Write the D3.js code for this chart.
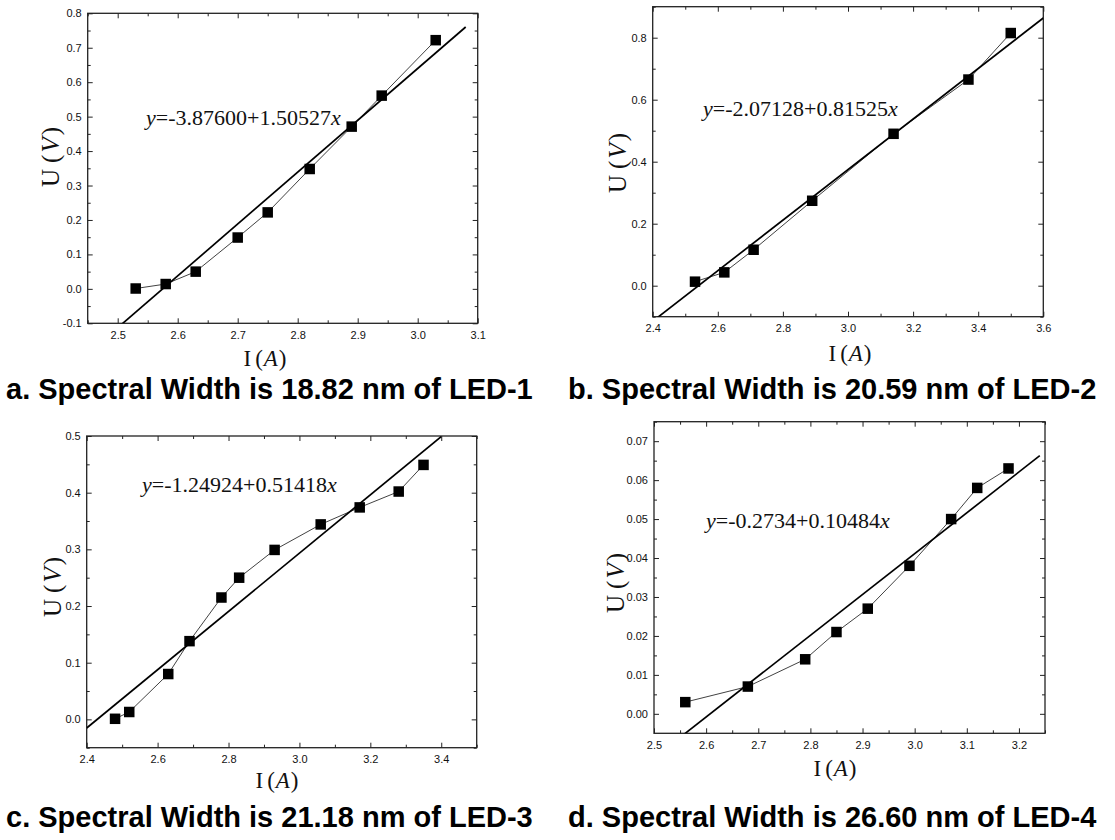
<!DOCTYPE html>
<html>
<head>
<meta charset="utf-8">
<script src="https://cdn.jsdelivr.net/npm/d3@7"></script>
<style>
  body { margin: 0; background: #fff; }
  svg { display: block; }
</style>
</head>
<body>
<svg width="1115" height="840"></svg>
<script>
const iA = [2.53, 2.58, 2.63, 2.70, 2.75, 2.82, 2.89, 2.94, 3.03];
const uA = [0.001, 0.014, 0.050, 0.149, 0.222, 0.348, 0.471, 0.561, 0.722];
const iB = [2.53, 2.62, 2.71, 2.89, 3.14, 3.37, 3.50];
const uB = [0.013, 0.043, 0.116, 0.274, 0.490, 0.665, 0.815];
const iC = [2.48, 2.52, 2.63, 2.69, 2.78, 2.83, 2.93, 3.06, 3.17, 3.28, 3.35];
const uC = [0.001, 0.013, 0.080, 0.138, 0.215, 0.250, 0.299, 0.344, 0.374, 0.402, 0.449];
const iD = [2.56, 2.68, 2.79, 2.85, 2.91, 2.99, 3.07, 3.12, 3.18];
const uD = [0.003, 0.007, 0.014, 0.021, 0.027, 0.038, 0.050, 0.058, 0.063];

// linear fits: [intercept, slope], and the I range the fit line covers
const fitA = [-3.87600, 1.50527], fitRangeA = [2.45, 3.08];
const fitB = [-2.07128, 0.81525], fitRangeB = [2.40, 3.60];
const fitC = [-1.24924, 0.51418], fitRangeC = [2.40, 3.40];
const fitD = [-0.2734, 0.10484], fitRangeD = [2.50, 3.24];

// equation text as printed on each plot
const eqA = "-3.87600+1.50527", eqB = "-2.07128+0.81525", eqC = "-1.24924+0.51418", eqD = "-0.2734+0.10484";

// tick values
const xMajA = [2.5, 2.6, 2.7, 2.8, 2.9, 3.0, 3.1];
const xMinA = [2.45, 2.55, 2.65, 2.75, 2.85, 2.95, 3.05];
const yMajA = [-0.1, 0.0, 0.1, 0.2, 0.3, 0.4, 0.5, 0.6, 0.7, 0.8];
const yMinA = [-0.05, 0.05, 0.15, 0.25, 0.35, 0.45, 0.55, 0.65, 0.75];
const xMajB = [2.4, 2.6, 2.8, 3.0, 3.2, 3.4, 3.6];
const xMinB = [2.5, 2.7, 2.9, 3.1, 3.3, 3.5];
const yMajB = [0.0, 0.2, 0.4, 0.6, 0.8];
const yMinB = [-0.1, 0.1, 0.3, 0.5, 0.7, 0.9];
const xMajC = [2.4, 2.6, 2.8, 3.0, 3.2, 3.4];
const xMinC = [2.5, 2.7, 2.9, 3.1, 3.3, 3.5];
const yMajC = [0.0, 0.1, 0.2, 0.3, 0.4, 0.5];
const yMinC = [-0.05, 0.05, 0.15, 0.25, 0.35, 0.45];
const xMajD = [2.5, 2.6, 2.7, 2.8, 2.9, 3.0, 3.1, 3.2];
const xMinD = [2.55, 2.65, 2.75, 2.85, 2.95, 3.05, 3.15, 3.25];
const yMajD = [0.00, 0.01, 0.02, 0.03, 0.04, 0.05, 0.06, 0.07];
const yMinD = [0.005, 0.015, 0.025, 0.035, 0.045, 0.055, 0.065, 0.075];

const captions = [
  "a. Spectral Width is 18.82 nm of LED-1",
  "b. Spectral Width is 20.59 nm of LED-2",
  "c. Spectral Width is 21.18 nm of LED-3",
  "d. Spectral Width is 26.60 nm of LED-4"
];

const svg = d3.select("svg");

function panel(o) {
  const x = d3.scaleLinear().domain(o.xDom).range([o.left, o.right]);
  const y = d3.scaleLinear().domain(o.yDom).range([o.bottom, o.top]);
  const g = svg.append("g");

  g.append("clipPath").attr("id", "clip" + o.id)
    .append("rect")
    .attr("x", o.left).attr("y", o.top)
    .attr("width", o.right - o.left).attr("height", o.bottom - o.top);

  // plain hyphen for negatives, like the original
  const fmt = f => v => d3.format(f)(v).replace("\u2212", "-");

  // ticks all point inward, labels only on left and bottom
  g.append("g").attr("transform", `translate(0,${o.bottom})`)
    .call(d3.axisBottom(x).tickValues(o.xMaj).tickSize(-5).tickPadding(8).tickFormat(fmt(".1f")));
  g.append("g").attr("transform", `translate(0,${o.bottom})`)
    .call(d3.axisBottom(x).tickValues(o.xMin).tickSize(-3).tickFormat(""));
  g.append("g").attr("transform", `translate(0,${o.top})`)
    .call(d3.axisTop(x).tickValues(o.xMaj).tickSize(-5).tickFormat(""));
  g.append("g").attr("transform", `translate(0,${o.top})`)
    .call(d3.axisTop(x).tickValues(o.xMin).tickSize(-3).tickFormat(""));
  g.append("g").attr("transform", `translate(${o.left},0)`)
    .call(d3.axisLeft(y).tickValues(o.yMaj).tickSize(-5).tickPadding(6).tickFormat(fmt(o.yFmt)));
  g.append("g").attr("transform", `translate(${o.left},0)`)
    .call(d3.axisLeft(y).tickValues(o.yMin).tickSize(-3).tickFormat(""));
  g.append("g").attr("transform", `translate(${o.right},0)`)
    .call(d3.axisRight(y).tickValues(o.yMaj).tickSize(-5).tickFormat(""));
  g.append("g").attr("transform", `translate(${o.right},0)`)
    .call(d3.axisRight(y).tickValues(o.yMin).tickSize(-3).tickFormat(""));

  g.selectAll(".domain").remove();
  g.selectAll(".tick line").attr("stroke", "#222").attr("stroke-width", 1);
  g.selectAll(".tick text")
    .attr("font-family", "Liberation Sans, Arial, sans-serif")
    .attr("font-size", 11).attr("fill", "#111");

  g.append("rect")
    .attr("x", o.left).attr("y", o.top)
    .attr("width", o.right - o.left).attr("height", o.bottom - o.top)
    .attr("fill", "none").attr("stroke", "#222").attr("stroke-width", 1.3);

  const pts = o.xs.map((v, i) => [v, o.ys[i]]);

  // data connected by a thin line
  g.append("path")
    .datum(pts)
    .attr("d", d3.line().x(d => x(d[0])).y(d => y(d[1])))
    .attr("fill", "none").attr("stroke", "#111").attr("stroke-width", 0.8);

  // fitted straight line
  g.append("path")
    .datum(o.fitRange.map(v => [v, o.fit[0] + o.fit[1] * v]))
    .attr("clip-path", `url(#clip${o.id})`)
    .attr("d", d3.line().x(d => x(d[0])).y(d => y(d[1])))
    .attr("fill", "none").attr("stroke", "#000").attr("stroke-width", 1.7);

  const s = 10.5;
  g.selectAll("rect.pt").data(pts).join("rect")
    .attr("class", "pt")
    .attr("x", d => x(d[0]) - s / 2).attr("y", d => y(d[1]) - s / 2)
    .attr("width", s).attr("height", s)
    .attr("fill", "#000");

  const serif = "Liberation Serif, Times New Roman, serif";

  const eq = g.append("text")
    .attr("x", o.eqX).attr("y", o.eqY)
    .attr("font-family", serif).attr("font-size", 22).attr("fill", "#111");
  eq.append("tspan").attr("font-style", "italic").text("y");
  eq.append("tspan").text("=" + o.eq);
  eq.append("tspan").attr("font-style", "italic").text("x");

  const xt = g.append("text")
    .attr("x", o.xTitle[0]).attr("y", o.xTitle[1])
    .attr("text-anchor", "middle")
    .attr("font-family", serif).attr("font-size", 23).attr("fill", "#111");
  xt.append("tspan").text("I");
  xt.append("tspan").attr("dx", 4).text("(");
  xt.append("tspan").attr("font-style", "italic").attr("dx", 1).text("A");
  xt.append("tspan").attr("dx", 1).text(")");

  const yt = g.append("text")
    .attr("transform", `translate(${o.yTitle[0]},${o.yTitle[1]}) rotate(-90)`)
    .attr("text-anchor", "middle").attr("dy", "0.35em")
    .attr("font-family", serif).attr("font-size", 25).attr("fill", "#111");
  yt.append("tspan").text("U");
  yt.append("tspan").attr("dx", 6).text("(");
  yt.append("tspan").attr("font-style", "italic").attr("dx", 2).text("V");
  yt.append("tspan").attr("dx", 2).text(")");

  svg.append("text")
    .attr("x", o.capX).attr("y", o.capY)
    .attr("font-family", "Liberation Sans, Arial, sans-serif")
    .attr("font-weight", "bold").attr("font-size", 29).attr("fill", "#000")
    .text(o.caption);
}

panel({
  id: "a", left: 87.7, right: 477.7, top: 13.3, bottom: 323.3,
  xDom: [2.45, 3.1], yDom: [-0.1, 0.8],
  xMaj: xMajA, xMin: xMinA, yMaj: yMajA, yMin: yMinA, yFmt: ".1f",
  xs: iA, ys: uA, fit: fitA, fitRange: fitRangeA,
  eq: eqA, eqX: 146, eqY: 125,
  xTitle: [265, 366], yTitle: [50, 157],
  caption: captions[0], capX: 6, capY: 399
});
panel({
  id: "b", left: 652.7, right: 1043.3, top: 6.7, bottom: 316.7,
  xDom: [2.4, 3.6], yDom: [-0.1, 0.9],
  xMaj: xMajB, xMin: xMinB, yMaj: yMajB, yMin: yMinB, yFmt: ".1f",
  xs: iB, ys: uB, fit: fitB, fitRange: fitRangeB,
  eq: eqB, eqX: 703, eqY: 116,
  xTitle: [850, 361], yTitle: [617, 163],
  caption: captions[1], capX: 568, capY: 399
});
panel({
  id: "c", left: 86.7, right: 476.7, top: 436, bottom: 747.7,
  xDom: [2.4, 3.5], yDom: [-0.05, 0.5],
  xMaj: xMajC, xMin: xMinC, yMaj: yMajC, yMin: yMinC, yFmt: ".1f",
  xs: iC, ys: uC, fit: fitC, fitRange: fitRangeC,
  eq: eqC, eqX: 142, eqY: 492,
  xTitle: [277, 788], yTitle: [52, 587],
  caption: captions[2], capX: 6, capY: 827
});
panel({
  id: "d", left: 654, right: 1045, top: 421.7, bottom: 733.3,
  xDom: [2.5, 3.25], yDom: [-0.005, 0.075],
  xMaj: xMajD, xMin: xMinD, yMaj: yMajD, yMin: yMinD, yFmt: ".2f",
  xs: iD, ys: uD, fit: fitD, fitRange: fitRangeD,
  eq: eqD, eqX: 706, eqY: 528,
  xTitle: [835, 776], yTitle: [615, 583],
  caption: captions[3], capX: 568, capY: 827
});
</script>
</body>
</html>
